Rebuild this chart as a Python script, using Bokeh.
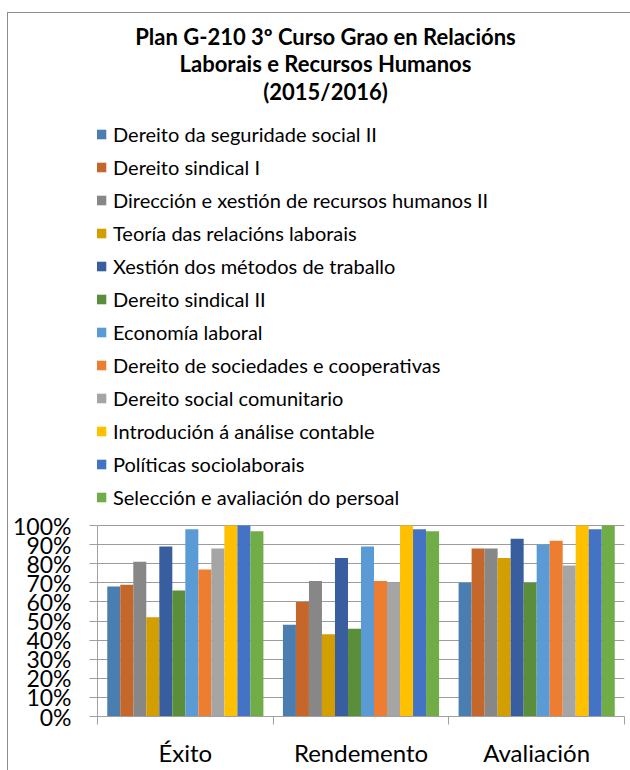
from bokeh.plotting import figure
from bokeh.models import (ColumnDataSource, Range1d, FixedTicker, NumeralTickFormatter,
                          Legend, LegendItem, Label)
from bokeh.transform import dodge
from bokeh.embed import file_html
from bokeh.resources import INLINE

categories = ["Éxito", "Rendemento", "Avaliación"]
series_names = [
    "Dereito da seguridade social II",
    "Dereito sindical I",
    "Dirección e xestión de recursos humanos II",
    "Teoría das relacións laborais",
    "Xestión dos métodos de traballo",
    "Dereito sindical II",
    "Economía laboral",
    "Dereito de sociedades e cooperativas",
    "Dereito social comunitario",
    "Introdución á análise contable",
    "Políticas sociolaborais",
    "Selección e avaliación do persoal",
]
dereito_seguridade_social_ii = [0.68, 0.48, 0.70]
dereito_sindical_i = [0.69, 0.60, 0.88]
direccion_xestion_rrhh_ii = [0.81, 0.71, 0.88]
teoria_relacions_laborais = [0.52, 0.43, 0.83]
xestion_metodos_traballo = [0.89, 0.83, 0.93]
dereito_sindical_ii = [0.66, 0.46, 0.70]
economia_laboral = [0.98, 0.89, 0.90]
dereito_sociedades_cooperativas = [0.77, 0.71, 0.92]
dereito_social_comunitario = [0.88, 0.70, 0.79]
introducion_analise_contable = [1.00, 1.00, 1.00]
politicas_sociolaborais = [1.00, 0.98, 0.98]
seleccion_avaliacion_persoal = [0.97, 0.97, 1.00]
y_ticks = [0.0, 0.1, 0.2, 0.3, 0.4, 0.5, 0.6, 0.7, 0.8, 0.9, 1.0]
title_lines = ["Plan G-210 3º Curso Grao en Relacións",
               "Laborais e Recursos Humanos",
               "(2015/2016)"]

series_values = [
    dereito_seguridade_social_ii, dereito_sindical_i, direccion_xestion_rrhh_ii,
    teoria_relacions_laborais, xestion_metodos_traballo, dereito_sindical_ii,
    economia_laboral, dereito_sociedades_cooperativas, dereito_social_comunitario,
    introducion_analise_contable, politicas_sociolaborais, seleccion_avaliacion_persoal,
]
colors = ["#4A7EB1", "#C5672B", "#878787", "#D39E00", "#385E9F", "#5A8E3A",
          "#5B9BD5", "#ED7D31", "#A5A5A5", "#FFC000", "#4472C4", "#70AD47"]

FONT = "Lato"
n = len(series_names)
bar_w = 1.0 / (n + 1.5)
idx = list(range(len(categories)))

FRAME_H = 703      # whole frame height (title + legend area + bar area)
BAR_H = 191        # pixel height of the 0..100% area
p = figure(title=None, frame_width=527, frame_height=FRAME_H,
           output_backend="svg", toolbar_location=None,
           x_range=Range1d(0, len(categories)), y_range=Range1d(0, FRAME_H / BAR_H),
           min_border_left=89, min_border_right=6, min_border_top=0, min_border_bottom=54)
p.styles = {"margin-left": "7px", "margin-top": "12px",
            "border-left": "1px solid #8C8C8C", "border-top": "1px solid #8C8C8C"}

items = []
for i, (name, vals, col) in enumerate(zip(series_names, series_values, colors)):
    src = ColumnDataSource(dict(idx=idx, val=vals))
    r = p.vbar(x=dodge("idx", 0.5 + (i - (n - 1) / 2) * bar_w, range=p.x_range),
               top="val", width=bar_w, bottom=0, source=src,
               fill_color=col, line_color=None)
    items.append(LegendItem(label=name, renderers=[r]))

legend = Legend(items=items, location=(-2, BAR_H + 16), orientation="vertical",
                label_text_font=FONT, label_text_font_size="20px", label_text_color="#000000",
                glyph_width=12, glyph_height=12, label_height=24, spacing=9,
                label_standoff=6, padding=2, margin=0,
                border_line_color=None, background_fill_alpha=0)
p.add_layout(legend)

for line, y_off in zip(title_lines, [680, 653, 625]):
    p.add_layout(Label(x=228, y=y_off, x_units="screen", y_units="screen", text=line,
                       text_align="center", text_baseline="middle", text_font=FONT,
                       text_font_style="bold", text_font_size="22px", text_color="#000000"))

# y axis
p.yaxis.ticker = FixedTicker(ticks=y_ticks)
p.yaxis.bounds = (0, 1)
p.yaxis.formatter = NumeralTickFormatter(format="0%")
p.yaxis.major_label_text_font = FONT
p.yaxis.major_label_text_font_size = "23px"
p.yaxis.major_label_text_color = "#000000"
p.yaxis.major_tick_out = 8
p.yaxis.major_tick_in = 0
p.yaxis.minor_tick_out = 0
p.yaxis.major_label_standoff = 18
p.yaxis.axis_line_color = "#A0A0A0"
p.yaxis.major_tick_line_color = "#A0A0A0"

# x axis
p.xaxis.ticker = FixedTicker(ticks=[i + 0.5 for i in idx], minor_ticks=list(range(len(categories) + 1)))
p.xaxis.major_label_overrides = {i + 0.5: c for i, c in zip(idx, categories)}
p.xaxis.major_label_text_font = FONT
p.xaxis.major_label_text_font_size = "24px"
p.xaxis.major_label_text_color = "#000000"
p.xaxis.major_tick_out = 0
p.xaxis.major_tick_in = 0
p.xaxis.minor_tick_out = 8
p.xaxis.minor_tick_in = 0
p.xaxis.minor_tick_line_color = "#A0A0A0"
p.xaxis.major_label_standoff = 13
p.xaxis.axis_line_color = "#A0A0A0"

p.xgrid.grid_line_color = None
p.ygrid.grid_line_color = "#9C9C9C"
p.ygrid.ticker = FixedTicker(ticks=y_ticks)
p.outline_line_color = None
p.background_fill_color = "white"
p.border_fill_color = "white"

open("out.html", "w").write(file_html(p, INLINE))
